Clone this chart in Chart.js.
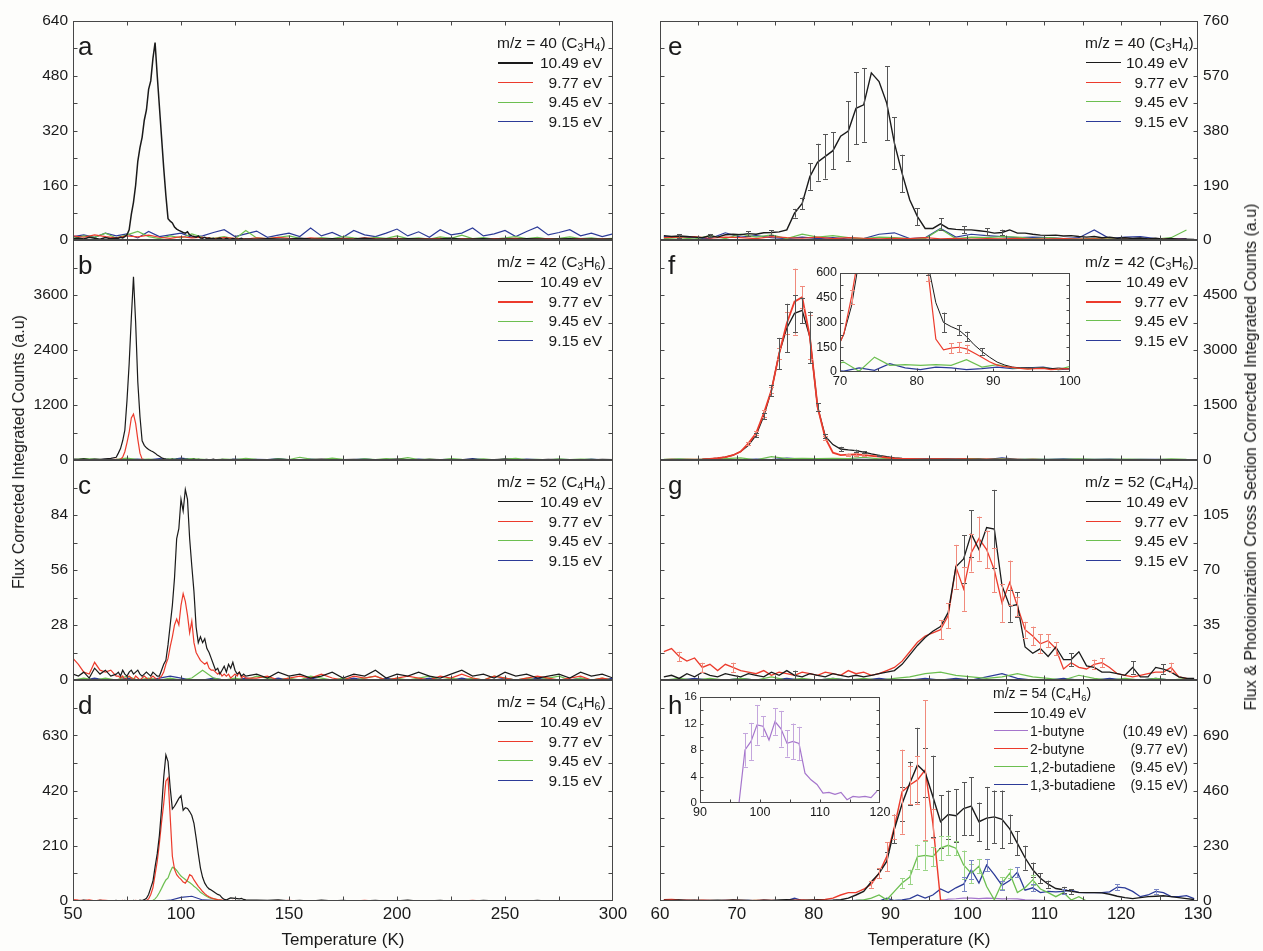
<!DOCTYPE html>
<html>
<head>
<meta charset="utf-8">
<title>TPD traces m/z 40, 42, 52, 54</title>
<script src="https://cdn.jsdelivr.net/npm/chart.js@4.4.1/dist/chart.umd.min.js"></script>
<style>
body { margin: 0; background: #fdfdfb; }
#wrap { position: relative; width: 1263px; height: 951px; overflow: hidden;
        font-family: 'Liberation Sans', Arial, sans-serif; color: #1a1a1a; }
#wrap canvas { position: absolute; left: 0; top: 0; }
.lbl { position: absolute; white-space: nowrap; }
.letter { font-size: 26px; line-height: 26px; }
.vtitle { font-size: 16px; transform: translate(-50%, -50%) rotate(-90deg); }
.xtitle { font-size: 17px; line-height: 18px; transform: translateX(-50%); }
.leg { position: absolute; font-size: 15.5px; white-space: nowrap; }
.leg.small { font-size: 14px; }
.leg .row { position: relative; }
.leg .row i { position: absolute; left: 1px; }
.leg .row span { position: absolute; right: 0; top: 0; }
.leg .row b { position: absolute; font-weight: normal; top: 0; }
sub { font-size: 68%; vertical-align: -0.3em; line-height: 0; }
</style>
</head>
<body>
<div id="wrap"></div>
<script>
// ---- temperature grids (K) ----
const tempL = [50,52.5,55,57.5,60,62.5,65,67.5,70,
    71,72,73,74,75,76,77,78,79,80,
    81,82,83,84,85,86,87,88,89,90,
    91,92,93,94,95,96,97,98,99,100,
    101,102,103,104,105,106,107,108,109,110,
    111,112,113,114,115,116,117,118,119,120,
    121,122,123,124,125,126,127,128,129,130,
    135,140,145,150,155,160,165,170,175,180,
    185,190,195,200,205,210,215,220,225,230,
    235,240,245,250,255,260,265,270,275,280,
    285,290,295,300];
const tempLc = [50,55,60,65,70,75,80,85,90,95,100,105,110,115,120,125,130,135,140,145,
    150,155,160,165,170,175,180,185,190,195,200,205,210,215,220,225,230,235,240,245,
    250,255,260,265,270,275,280,285,290,295,300];
const tempR = [60.5,61.5,62.5,63.5,64.5,65.5,66.5,67.5,68.5,69.5,
    70.5,71.5,72.5,73.5,74.5,75.5,76.5,77.5,78.5,79.5,
    80.5,81.5,82.5,83.5,84.5,85.5,86.5,87.5,88.5,89.5,
    90.5,91.5,92.5,93.5,94.5,95.5,96.5,97.5,98.5,99.5,
    100.5,101.5,102.5,103.5,104.5,105.5,106.5,107.5,108.5,109.5,
    110.5,111.5,112.5,113.5,114.5,115.5,116.5,117.5,118.5,119.5,
    120.5,121.5,122.5,123.5,124.5,125.5,126.5,127.5,128.5,129.5];
const tempR2 = [60.5,62.5,64.5,66.5,68.5,70.5,72.5,74.5,76.5,78.5,
    80.5,82.5,84.5,86.5,88.5,90.5,92.5,94.5,96.5,98.5,
    100.5,102.5,104.5,106.5,108.5,110.5,112.5,114.5,116.5,118.5,
    120.5,122.5,124.5,126.5,128.5];
const butyneT = [96.5,97.5,98.5,99.5,100.5,101.5,102.5,103.5,104.5,105.5,106.5,107.5,
    108.5,109.5,110.5,111.5,112.5,113.5,114.5,115.5,116.5,117.5,118.5,119.5];

// ---- panel a: m/z 40 ----
const aBlack = [4,6,3,8,5,2,7,4,6,
    5,8,6,10,15,30,75,110,160,230,
    270,300,350,380,440,465,530,577,480,390,
    300,210,130,62,55,50,38,32,28,25,
    22,20,24,15,12,10,8,12,6,5,
    8,4,6,3,5,2,4,6,3,2,
    5,3,2,4,3,2,3,5,2,3,
    2,4,3,2,5,3,2,4,2,3, 5,2,3,2,4,3,2,3,5,2, 3,4,2,3,2,4,3,2,3,4, 2,3,2,3];
const aRed = [12,8,15,10,6,12,9,14,8,5, 10,6,8,4,7,5,3,6,4,8, 5,3,6,4,2,5,3,6,4,3,
    5,2,4,3,5,2,4,3,2,4, 3,5,2,3,4,2,3,4,2,3, 2];
const aGreen = [5,12,8,20,6,15,25,10,4,12, 6,18,8,5,10,3,28,6,4,8, 12,5,3,7,4,10,6,3,8,5,
    12,4,6,3,9,5,14,4,7,3, 6,10,4,8,3,5,9,4,6,3, 5];
const aBlue = [10,15,8,20,12,18,6,25,10,15, 20,8,12,22,30,10,18,26,8,14, 20,10,35,12,22,8,28,15,10,20,
    32,12,24,8,30,15,20,35,12,18, 28,10,25,38,15,22,30,12,20,10, 18];

// ---- panel b: m/z 42 ----
const bBlack = [20,15,25,10,20,15,25,35,60,
    150,250,420,650,1300,2100,3100,4000,3000,1700,
    950,420,320,265,230,200,180,150,110,80,
    50,30,20,15,10,20,5,15,10,5,
    20,10,15,5,10,20,5,15,10,5,
    10,15,5,10,20,5,10,5,15,10,
    5,10,5,15,10,5,10,5,10,5,
    10,5,15,10,5,10,20,5,10,15, 5,10,5,20,10,5,15,10,5,10, 15,5,10,20,5,10,5,15,10,5, 10,5,15,10];
const bRed = [0,10,5,0,10,5,0,10,15,
    10,20,60,180,380,600,920,1000,800,450,
    150,20,10,5,0,10,5,0,10,5,
    0,10,5,0,10,0,5,10,0,5,
    10,0,5,0,10,5,0,10,5,0,
    5,10,0,5,0,10,5,0,5,10,
    0,5,10,0,5,0,10,5,0,5,
    5,0,10,5,0,5,10,0,5,0, 10,5,0,5,10,0,5,0,10,5, 0,5,10,0,5,0,5,10,0,5, 0,10,5,0];
const bGreen = [10,30,20,5,15,40,10,20,5,25, 10,30,15,5,20,10,35,15,5,25, 10,60,20,10,40,15,5,25,10,30,
    15,50,10,20,5,30,15,10,25,5, 20,35,10,15,5,25,10,20,15,5, 10];
const bBlue = [5,10,0,15,5,10,20,5,30,10, 40,15,5,10,0,20,5,15,10,30, 5,10,20,0,15,5,10,25,5,15,
    10,0,20,5,10,15,5,30,10,5, 15,0,20,10,5,15,10,5,20,5, 10];

// ---- panel c: m/z 52 ----
const cBlack = [3,2,4,1,6,3,5,2,3,
    4,2,5,3,2,4,5,3,4,5,
    3,2,3,4,3,2,4,3,2,2,
    5,8,10,18,28,38,52,72,77,92,
    86,97,92,72,58,45,27,19,22,19,
    21,16,14,11,8,5,6,3,5,7,
    4,8,6,9,5,3,4,2,3,2,
    3,1,4,2,3,1,2,4,1,3, 2,5,1,3,2,4,2,1,3,5, 2,3,1,4,2,3,1,2,3,1, 4,2,3,1];
const cRed = [11,8,4,3,9,5,4,5,2,
    2,1,2,0,1,2,1,0,2,1,
    0,1,2,1,0,1,2,1,0,1,
    2,4,8,11,17,22,28,31,28,38,
    44,40,33,24,30,19,14,12,10,9,
    8,9,6,5,5,4,3,4,2,3,
    2,3,1,2,3,2,4,1,2,1,
    1,2,0,1,2,1,3,1,0,2, 1,2,0,1,2,1,0,2,1,3, 1,0,2,1,0,1,2,1,0,1, 2,0,1,0];
const cGreen = [0,1,0,1,0,2,0,1,0,1, 0,1,5,1,0,1,0,2,1,0, 1,0,2,1,0,1,0,1,2,0,
    1,0,1,2,0,1,0,1,0,2, 1,0,1,0,1,2,0,1,0,1, 0];
const cBlue = [0,0,1,0,0,1,0,0,1,2, 1,0,0,1,0,0,1,0,0,1, 0,0,1,0,0,0,1,0,0,1,
    0,0,0,1,0,0,1,0,0,0, 1,0,0,1,0,0,0,1,0,0, 1];

// ---- panel d: m/z 54 ----
const dBlack = [2,0,3,1,0,2,1,0,2,
    0,1,0,2,0,1,0,2,1,0,
    3,2,5,10,25,50,75,130,180,250,
    350,470,555,530,430,350,360,375,390,400,
    345,355,352,340,325,295,240,180,125,90,
    68,55,46,42,36,30,25,22,12,6,
    4,8,12,11,10,9,8,10,6,4,
    3,2,4,1,2,0,3,1,2,0, 1,2,0,1,3,0,1,2,0,1, 0,2,1,0,1,0,2,0,1,0, 1,0,1,0];
const dRed = [5,3,2,4,1,3,2,1,0,
    1,0,2,0,1,0,1,0,2,1,
    0,1,0,2,8,25,50,100,150,220,
    300,370,455,468,320,170,120,100,90,82,
    72,68,80,100,95,80,68,56,46,36,
    28,21,16,12,9,7,5,4,3,2,
    1,0,1,2,0,1,0,1,0,1,
    0,1,0,2,0,1,0,0,1,0, 2,0,1,0,0,1,0,1,0,0, 2,0,1,0,0,1,0,0,1,0, 0,1,0,0];
const dGreen = [0,0,0,0,0,0,0,0,0,
    0,0,0,0,0,0,0,0,0,0,
    0,0,0,0,0,1,3,8,18,32,
    48,65,80,88,110,128,125,116,105,95,
    88,82,75,70,64,56,50,42,33,28,
    22,17,13,10,8,6,4,3,2,1,
    0,1,0,0,1,0,0,0,1,0,
    0,1,0,0,1,0,0,1,0,0, 0,1,0,0,1,0,0,0,1,0, 0,1,0,0,0,1,0,0,1,0, 0,0,1,0];
const dBlue = [0,1,0,0,1,0,0,1,0,3, 14,18,4,2,1,0,1,0,0,1, 0,0,1,0,0,0,1,0,0,0,
    1,0,0,0,1,0,0,0,1,0, 0,1,0,0,0,1,0,0,0,1, 0];

// ---- panel e: m/z 40, cross-section corrected ----
const eBlack = [15,12,14,12,10,8,15,10,18,20,
    18,22,20,25,26,28,35,93,127,220,
    270,290,310,360,378,457,469,580,550,475,
    336,231,139,81,40,40,56,40,37,35,
    35,32,29,24,26,35,24,24,20,17,
    16,17,14,15,12,10,12,8,10,6,
    8,5,7,4,6,3,5,2,3,2];
const eBlackErr = [[62.5,6],[66.5,6],[71.5,8],[74.5,8],[77.5,15],[78.5,20],[79.5,46],[80.5,64],
    [81.5,77],[82.5,64],[84.5,103],[85.5,125],[86.5,128],[89.5,128],[90.5,90],[91.5,65],
    [93.5,29],[96.5,20],[99.5,12],[102.5,12],[104.5,10]];
const eRed = [8,10,12,6,10,8,5,12,8,6, 10,5,8,6,4,6,5,8,4,6, 3,5,4,6,3,4,5,3,4,2, 3,4,2,3,2];
const eGreen = [5,8,3,15,5,20,10,18,5,20, 10,15,8,5,10,8,5,5,38,5, 10,8,12,10,5,8,5,3,6,4, 3,5,3,8,35];
const eBlue = [12,10,8,5,25,10,15,8,5,10, 5,8,3,5,20,25,5,8,40,10, 20,15,12,8,10,8,5,8,35,5, 10,12,5,5,5];

// ---- panel f: m/z 42 ----
const fBlack = [5,8,6,10,12,15,30,50,80,130,
    230,400,680,1200,1900,2900,3600,4000,4080,3350,
    1450,650,420,300,275,255,215,165,125,90,
    60,42,30,25,25,22,25,20,24,20,
    18,20,15,18,12,15,10,12,10,8,
    10,6,8,5,6,8,5,4,6,5,
    3,4,6,3,4,5,3,2,4,3];
const fBlackErr = [[72.5,60],[73.5,80],[74.5,150],[75.5,430],[76.5,660],[77.5,500],[78.5,350],
    [79.5,700],[80.5,100],[81.5,60],[83.5,60],[85.5,30],[86.5,30],[88.5,20]];
const fRed = [5,8,6,10,12,15,30,50,80,130,
    230,455,730,1270,1900,2900,3730,4320,4440,3360,
    1450,600,200,135,145,150,140,115,90,62,
    42,32,28,22,18,20,22,15,18,20,
    15,12,14,10,12,8,10,6,8,5,
    6,4,5,6,3,4,5,3,4,2,
    3,4,2,3,2,3,2,3,2,1];
const fRedErr = [[71.5,40],[72.5,60],[73.5,90],[74.5,80],[75.5,150],[76.5,300],[77.5,900],
    [78.5,300],[79.5,600],[80.5,100],[81.5,50],[84.5,30],[85.5,30],[86.5,25]];
const fGreen = [20,30,15,25,40,60,5,90,40,45, 40,45,40,75,30,45,25,20,25,15,
    40,20,30,15,25,20,15,30,20,15, 25,20,10,30,15];
const fBlue = [10,20,5,15,10,5,25,10,50,25, 15,30,25,15,20,30,20,25,30,15,
    20,10,60,15,20,15,30,20,15,25, 10,20,15,10,5];

// ---- panel g: m/z 52 ----
const gBlack = [2,3,1,4,2,5,3,2,4,3,
    2,4,3,2,5,3,6,3,2,4,
    3,2,4,3,2,3,2,3,4,5,
    6,10,16,22,27,31,34,43,72,77,
    93,83,97,96,60,47,48,21,17,20,
    15,21,13,13,18,9,8,5,5,4,
    3,8,2,2,8,7,5,2,1,1];
const gBlackErr = [[77.5,3],[99.5,15],[100.5,15],[103.5,25],[105.5,10],[106.5,8],[113.5,4],[121.5,4],[125.5,3]];
const gRed = [18,20,15,12,14,8,10,6,10,8,
    6,5,4,6,3,5,4,3,5,4,
    3,5,4,3,6,4,5,3,4,6,
    8,12,18,24,28,30,32,41,72,58,
    81,90,83,70,49,62,47,32,28,23,
    25,20,7,11,8,7,10,11,8,4,
    3,2,3,4,5,5,8,2,1,0];
const gRedErr = [[62.5,3],[65.5,3],[69.5,3],[96.5,6],[97.5,8],[98.5,14],[99.5,14],[100.5,12],
    [101.5,14],[102.5,12],[103.5,14],[104.5,12],[105.5,14],[106.5,6],[107.5,5],[108.5,6],
    [109.5,6],[110.5,4],[111.5,4],[116.5,3],[117.5,3],[126.5,3]];
const gGreen = [0,1,0,1,0,1,0,2,0,1, 0,1,0,1,0,1,2,4,5,3, 2,1,2,4,2,1,0,3,1,0, 1,0,1,0,1];
const gBlue = [0,0,1,0,0,1,0,0,1,0, 0,1,0,0,1,0,0,1,0,1, 0,2,4,1,0,0,1,0,0,1, 0,0,1,0,0];

// ---- panel h: m/z 54 ----
const hBlack = [3,2,4,2,3,1,2,3,2,4,
    3,2,1,3,2,4,5,3,2,3,
    4,2,3,5,12,25,40,80,115,165,
    300,405,490,566,535,435,330,360,355,385,
    395,330,345,350,340,300,240,180,130,95,
    70,52,47,40,36,35,35,34,28,20,
    14,10,14,18,20,22,18,14,10,6];
const hBlackErr = [[88.5,20],[89.5,40],[90.5,60],[91.5,70],[92.5,90],[93.5,155],[94.5,100],[95.5,170],
    [96.5,110],[97.5,100],[98.5,110],[99.5,110],[100.5,120],[101.5,80],[102.5,130],[103.5,110],
    [104.5,120],[105.5,60],[106.5,50],[107.5,50],[108.5,30],[109.5,20],[110.5,15],[112.5,12],[113.5,10]];
const hRed = [5,6,4,3,2,3,2,1,2,3,
    2,1,2,3,2,1,2,3,4,3,
    5,6,12,25,35,35,49,70,116,185,
    309,455,483,504,545,324,4,0,0,0,
    0,0,0,0,0,0,0,0,0,0,
    0,0,0,0,0,0,0,0,0,0,
    0,0,0,0,0,0,0,0,0,0];
const hRedErr = [[87.5,15],[88.5,20],[89.5,60],[90.5,50],[91.5,175],[92.5,80],[93.5,100],[94.5,290],[95.5,60]];
const hGreen = [0,0,1,0,0,2,0,0,1,0,
    0,0,2,0,0,1,0,0,0,2,
    0,0,1,0,0,2,5,12,25,5,
    40,75,100,185,190,185,220,232,220,150,
    115,145,60,5,75,115,35,55,88,50,
    35,18,35,4,18,0,0,0,0,0,
    0,0,0,0,0,0,0,0,0,0];
const hGreenErr = [[91.5,20],[92.5,30],[93.5,50],[94.5,60],[95.5,40],[96.5,50],[97.5,40],[98.5,30],
    [99.5,60],[100.5,40],[101.5,30],[104.5,25],[105.5,20],[108.5,20]];
const hBlue = [2,0,1,3,0,2,1,0,2,0,
    1,3,0,2,1,0,2,12,2,0,
    1,0,2,1,0,3,2,1,0,12,
    2,5,10,25,12,25,50,35,55,70,
    130,75,150,110,65,85,120,45,55,35,
    40,38,40,45,35,35,35,35,38,58,
    55,40,18,25,40,35,18,18,22,10];
const hBlueErr = [[99.5,30],[100.5,40],[102.5,25],[104.5,20],[106.5,20],[108.5,15],[112.5,10],[119.5,12],[124.5,10]];
const butyne = [0,8.0,9.3,11.8,11.6,9.5,12.3,11.2,9.0,9.3,9.0,4.5,
    3.5,2.8,1.5,1.6,1.3,1.6,0.5,1.0,0.9,1.0,0.8,1.8];
const butyneErr = [[97.5,2.5],[98.5,2.8],[99.5,3],[100.5,1.5],[102.5,2],[103.5,2.7],[104.5,2],[105.5,2.7],[106.5,2.5]];

// ---- axes ----
const yRanges = {
    a: [0, 640, 160], b: [0, 4800, 1200], c: [0, 112, 28], d: [0, 840, 210],
    e: [0, 760, 190], f: [0, 6000, 1500], g: [0, 140, 35], h: [0, 920, 230]
};
const xLeft = [50, 300, 50];
const xRight = [60, 130, 10];
const evLabels = ['10.49 eV', '9.77 eV', '9.45 eV', '9.15 eV'];
const h54Labels = [['10.49 eV', ''], ['1-butyne', '(10.49 eV)'], ['2-butyne', '(9.77 eV)'],
    ['1,2-butadiene', '(9.45 eV)'], ['1,3-butadiene', '(9.15 eV)']];

const W = 1263, H = 951;
const BG = '#fdfdfb';
const C = { k: '#1a1a1a', r: '#ec3b2c', g: '#6cbf50', b: '#2c3b98', p: '#a575cc' };
const CE = { k: '#555555', r: '#f08a7c', g: '#9ad486', b: '#7a86c4', p: '#c4a6dd' };
const rows = [[21, 240], [240, 460], [460, 680], [680, 901]];
const wrap = document.getElementById('wrap');

Chart.defaults.font.family = "'Liberation Sans', Arial, sans-serif";
Chart.defaults.color = '#1a1a1a';

const frameTicks = {
    id: 'frameTicks',
    beforeDatasetsDraw(chart, args, o) {
        if (!o.fill) return;
        const a = chart.chartArea;
        chart.ctx.save();
        chart.ctx.fillStyle = o.fill;
        chart.ctx.fillRect(a.left, a.top, a.right - a.left, a.bottom - a.top);
        chart.ctx.restore();
    },
    afterDraw(chart, args, o) {
        const ctx = chart.ctx, a = chart.chartArea;
        const xs = chart.scales.x, ys = chart.scales.y;
        const L = Math.round(a.left) + 0.5, R = Math.round(a.right) - 0.5;
        const T = Math.round(a.top) + 0.5, B = Math.round(a.bottom) - 0.5;
        ctx.save();
        ctx.strokeStyle = '#474747';
        ctx.lineWidth = 1;
        ctx.strokeRect(L, T, R - L, B - T);
        ctx.beginPath();
        for (let v = xs.min + o.xStep; v < xs.max - 1e-6; v += o.xStep) {
            const px = Math.round(xs.getPixelForValue(v)) + 0.5;
            ctx.moveTo(px, T); ctx.lineTo(px, T + o.len);
            ctx.moveTo(px, B); ctx.lineTo(px, B - o.len);
        }
        for (let v = ys.min + o.yStep; v < ys.max - 1e-6; v += o.yStep) {
            const py = Math.round(ys.getPixelForValue(v)) + 0.5;
            ctx.moveTo(L, py); ctx.lineTo(L + o.len, py);
            ctx.moveTo(R, py); ctx.lineTo(R - o.len, py);
        }
        ctx.stroke();
        ctx.restore();
    }
};

const errorBars = {
    id: 'errorBars',
    afterDatasetsDraw(chart) {
        const ctx = chart.ctx, a = chart.chartArea;
        const xs = chart.scales.x, ys = chart.scales.y;
        ctx.save();
        ctx.beginPath();
        ctx.rect(a.left, a.top, a.right - a.left, a.bottom - a.top);
        ctx.clip();
        chart.data.datasets.forEach(ds => {
            if (!ds.errs) return;
            ctx.strokeStyle = ds.errColor;
            ctx.lineWidth = 1;
            ctx.beginPath();
            ds.errs.forEach(([t, e]) => {
                const p = ds.data.find(d => d.x === t);
                if (!p) return;
                const px = Math.round(xs.getPixelForValue(t)) + 0.5;
                const y1 = ys.getPixelForValue(p.y + e), y2 = ys.getPixelForValue(p.y - e);
                ctx.moveTo(px, y1); ctx.lineTo(px, y2);
                ctx.moveTo(px - 2.5, Math.round(y1) + 0.5); ctx.lineTo(px + 2.5, Math.round(y1) + 0.5);
                ctx.moveTo(px - 2.5, Math.round(y2) + 0.5); ctx.lineTo(px + 2.5, Math.round(y2) + 0.5);
            });
            ctx.stroke();
        });
        ctx.restore();
    }
};
Chart.register(frameTicks, errorBars);

function xy(xs, ys) {
    return ys.map((v, i) => ({ x: xs[i], y: v }));
}

function line(xs, ys, color, width, errs, errColor) {
    return {
        data: xy(xs, ys), borderColor: color, borderWidth: width || 1.2,
        pointRadius: 0, tension: 0, fill: false, errs: errs || null, errColor: errColor
    };
}

function makeChart(p) {
    const cv = document.createElement('canvas');
    cv.width = W; cv.height = H;
    wrap.appendChild(cv);
    const a = p.area;
    const pad = p.yPos === 'left'
        ? { left: a[0] - p.yW, top: a[1], right: W - a[2], bottom: H - a[3] - p.xH }
        : { left: a[0], top: a[1], right: W - a[2] - p.yW, bottom: H - a[3] - p.xH };
    return new Chart(cv, {
        type: 'line',
        data: { datasets: p.datasets },
        options: {
            responsive: false, animation: false, events: [],
            layout: { padding: pad },
            plugins: {
                legend: { display: false }, tooltip: { enabled: false },
                frameTicks: { xStep: p.xStep, yStep: p.yStep, len: p.len || 4, fill: p.fill || null }
            },
            scales: {
                x: {
                    type: 'linear', min: p.x[0], max: p.x[1],
                    ticks: { display: !!p.xLabels, stepSize: p.x[2], autoSkip: false, maxRotation: 0,
                             padding: p.xPad || 3, font: { size: p.xFont || 17 }, callback: v => String(v) },
                    grid: { display: false, drawTicks: false }, border: { display: false },
                    afterFit: s => { s.height = p.xH; }
                },
                y: {
                    position: p.yPos, min: p.y[0], max: p.y[1],
                    ticks: { stepSize: p.y[2], autoSkip: false, padding: p.yPad || 5,
                             font: { size: p.yFont || 15.5 },
                             callback: v => (p.hideTop && v === p.y[1]) ? '' : String(v) },
                    grid: { display: false, drawTicks: false }, border: { display: false },
                    afterFit: s => { s.width = p.yW; }
                }
            }
        }
    });
}

function leftPanel(i, key, datasets) {
    const r = rows[i];
    makeChart({
        area: [73, r[0], 613, r[1]], yPos: 'left', yW: 40, xH: i === 3 ? 40 : 0,
        x: xLeft, y: yRanges[key], xStep: 25, yStep: yRanges[key][2] / 2,
        xLabels: i === 3, hideTop: i > 0, datasets: datasets
    });
}

function rightPanel(i, key, datasets) {
    const r = rows[i];
    makeChart({
        area: [660, r[0], 1198, r[1]], yPos: 'right', yW: 45, xH: i === 3 ? 40 : 0,
        x: xRight, y: yRanges[key], xStep: 5, yStep: yRanges[key][2] / 2,
        xLabels: i === 3, hideTop: i > 0, datasets: datasets
    });
}

// left column
leftPanel(0, 'a', [line(tempL, aBlack, C.k, 1.5), line(tempLc, aRed, C.r), line(tempLc, aGreen, C.g), line(tempLc, aBlue, C.b)]);
leftPanel(1, 'b', [line(tempL, bBlack, C.k), line(tempL, bRed, C.r), line(tempLc, bGreen, C.g), line(tempLc, bBlue, C.b)]);
leftPanel(2, 'c', [line(tempL, cBlack, C.k), line(tempL, cRed, C.r), line(tempLc, cGreen, C.g), line(tempLc, cBlue, C.b)]);
leftPanel(3, 'd', [line(tempL, dBlack, C.k), line(tempL, dRed, C.r), line(tempL, dGreen, C.g), line(tempLc, dBlue, C.b)]);

// right column
rightPanel(0, 'e', [line(tempR, eBlack, C.k, 1.4, eBlackErr, CE.k), line(tempR2, eRed, C.r), line(tempR2, eGreen, C.g), line(tempR2, eBlue, C.b)]);
rightPanel(1, 'f', [line(tempR, fRed, C.r, 1.8, fRedErr, CE.r), line(tempR, fBlack, C.k, 1.3, fBlackErr, CE.k), line(tempR2, fGreen, C.g), line(tempR2, fBlue, C.b)]);
rightPanel(2, 'g', [line(tempR, gBlack, C.k, 1.3, gBlackErr, CE.k), line(tempR, gRed, C.r, 1.3, gRedErr, CE.r), line(tempR2, gGreen, C.g), line(tempR2, gBlue, C.b)]);
rightPanel(3, 'h', [line(tempR, hBlack, C.k, 1.4, hBlackErr, CE.k), line(tempR, hRed, C.r, 1.4, hRedErr, CE.r),
    line(tempR, hGreen, C.g, 1.3, hGreenErr, CE.g), line(tempR, hBlue, C.b, 1.3, hBlueErr, CE.b), line(butyneT, butyne, C.p, 1.2)]);

// insets
makeChart({
    area: [840, 273, 1070, 372], yPos: 'left', yW: 30, xH: 22, x: [70, 100, 10], y: [0, 600, 150],
    xStep: 5, yStep: 75, len: 3, xLabels: true, xFont: 13, yFont: 12.5, xPad: 2, yPad: 3, fill: BG,
    datasets: [line(tempR, fRed, C.r, 1.2, fRedErr, CE.r), line(tempR, fBlack, C.k, 1.0, fBlackErr, CE.k),
               line(tempR2, fGreen, C.g), line(tempR2, fBlue, C.b)]
});
makeChart({
    area: [700, 697, 880, 803], yPos: 'left', yW: 28, xH: 18, x: [90, 120, 10], y: [0, 16, 4],
    xStep: 5, yStep: 2, len: 3, xLabels: true, xFont: 12.5, yFont: 11.5, xPad: 2, yPad: 3, fill: BG,
    datasets: [line(butyneT, butyne, C.p, 1.2, butyneErr, CE.p)]
});

// ---- text overlays ----
function addText(cls, left, top, html) {
    const d = document.createElement('div');
    d.className = 'lbl ' + cls;
    d.style.left = left + 'px';
    d.style.top = top + 'px';
    d.innerHTML = html;
    wrap.appendChild(d);
}

function legend(left, top, width, header, items, opt) {
    const box = document.createElement('div');
    box.className = 'leg' + (opt.small ? ' small' : '');
    box.style.left = left + 'px';
    box.style.top = top + 'px';
    box.style.width = width + 'px';
    let html = '<div style="height:' + opt.hh + 'px;line-height:' + opt.hh + 'px">' + header + '</div>';
    items.forEach(it => {
        html += '<div class="row" style="height:' + opt.rh + 'px;line-height:' + opt.rh + 'px">' +
            '<i style="width:' + opt.sw + 'px;top:' + (opt.rh / 2 - it.w / 2) + 'px;border-top:' + it.w + 'px solid ' + it.c + '"></i>' +
            (it.left ? '<b style="left:' + opt.tl + 'px">' + it.left + '</b>' : '') +
            '<span>' + it.t + '</span></div>';
    });
    box.innerHTML = html;
    wrap.appendChild(box);
}

const mz = ['m/z = 40 (C<sub>3</sub>H<sub>4</sub>)', 'm/z = 42 (C<sub>3</sub>H<sub>6</sub>)',
            'm/z = 52 (C<sub>4</sub>H<sub>4</sub>)', 'm/z = 54 (C<sub>4</sub>H<sub>6</sub>)'];
const legW = [[2, 1.2, 1.2, 1.5], [1.2, 2, 1.2, 1.2], [1.5, 1.5, 1.5, 1.5], [1.5, 1.5, 1.5, 1.5]];
const cols = [C.k, C.r, C.g, C.b];
const letters = ['a', 'b', 'c', 'd', 'e', 'f', 'g', 'h'];

for (let i = 0; i < 4; i++) {
    const items = evLabels.map((t, j) => ({ t: t, c: cols[j], w: legW[i][j] }));
    legend(497, rows[i][0] + 11, 105, mz[i], items, { hh: 21, rh: 19.7, sw: 35 });
    if (i < 3) legend(1085, rows[i][0] + 11, 103, mz[i], items.map((it, j) => ({ t: it.t, c: it.c, w: j === 1 && i === 1 ? 2 : 1.5 })), { hh: 21, rh: 19.7, sw: 35 });
    addText('letter', 78, rows[i][0] + 12, letters[i]);
    addText('letter', 668, rows[i][0] + 12, letters[i + 4]);
}
const hCols = [C.k, C.p, C.r, C.g, C.b];
legend(993, 682, 195, mz[3], h54Labels.map((l, j) => ({ left: l[0], t: l[1], c: hCols[j], w: 1.5 })),
       { hh: 22, rh: 18, sw: 34, tl: 37, small: true });

addText('vtitle', 19, 452, 'Flux Corrected Integrated Counts (a.u)');
addText('vtitle', 1251, 457, 'Flux &amp; Photoionization Cross Section Corrected Integrated Counts (a.u)');
addText('xtitle', 343, 931, 'Temperature (K)');
addText('xtitle', 929, 931, 'Temperature (K)');
</script>
</body>
</html>
